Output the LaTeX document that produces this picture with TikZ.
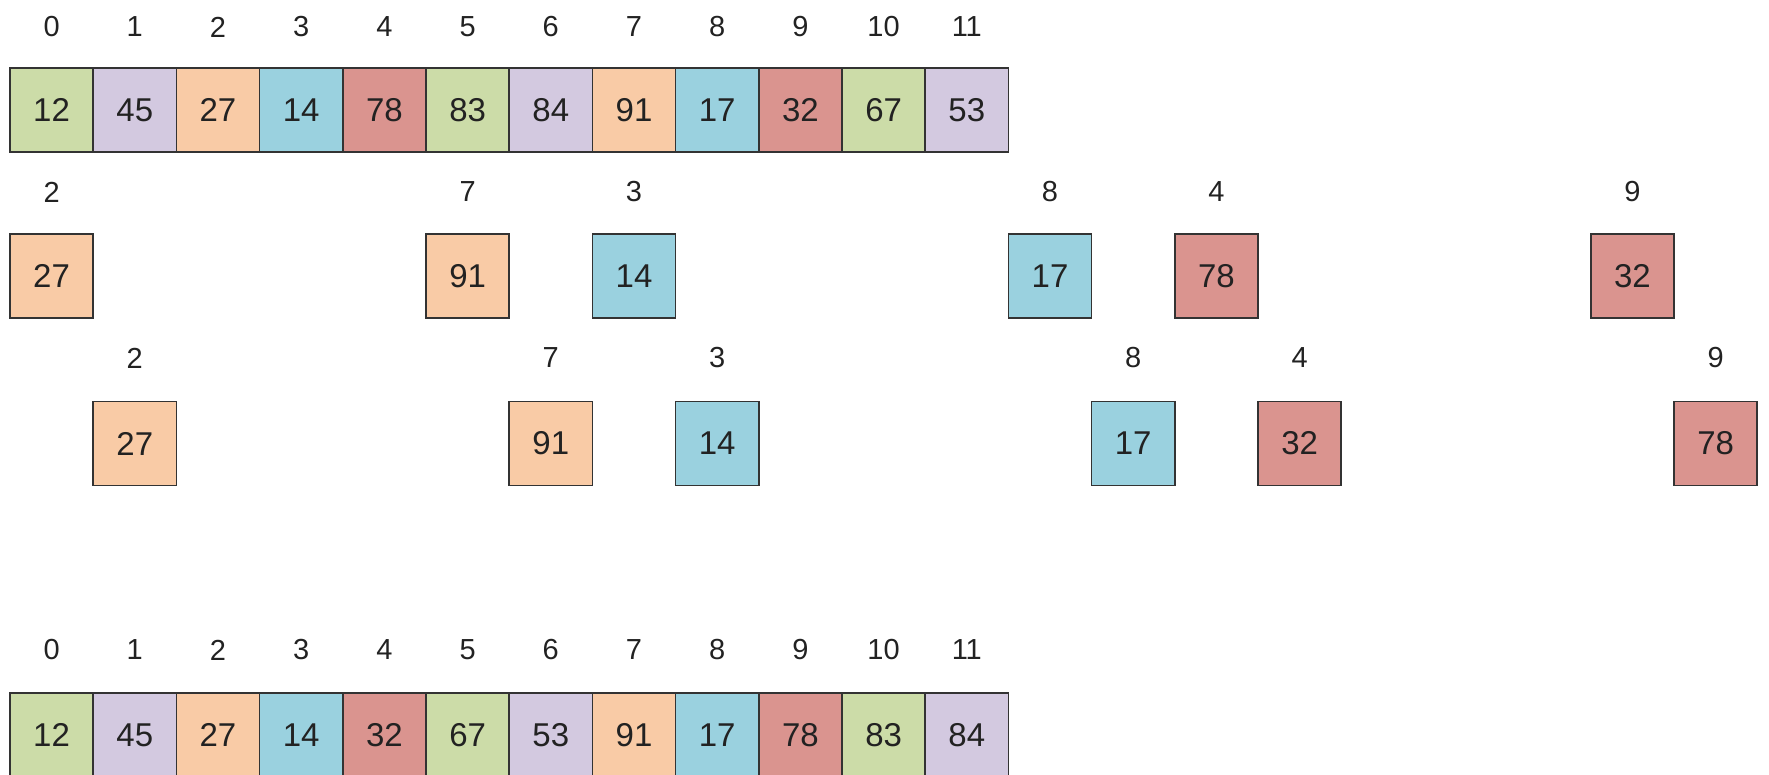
\documentclass[tikz,border=0pt]{standalone}
\usepackage{fontspec}
\setmainfont{Liberation Sans}
\definecolor{cA}{HTML}{CCDCA8}
\definecolor{cB}{HTML}{D3C9E0}
\definecolor{cC}{HTML}{F9CBA6}
\definecolor{cD}{HTML}{9AD1DF}
\definecolor{cE}{HTML}{DA948F}
\definecolor{edge}{HTML}{333333}
\definecolor{txt}{HTML}{222222}
\tikzset{
  cell/.style={draw=edge, line width=1.6pt, rectangle, minimum width=83.2pt, minimum height=84pt, inner sep=0pt, font=\fontsize{33}{36}\selectfont, text=txt},
  idx/.style={inner sep=0pt, font=\fontsize{29}{32}\selectfont, text=txt}
}
\begin{document}
\begin{tikzpicture}[x=1pt,y=-1pt]
\useasboundingbox (0,0) rectangle (1769,775);
\begin{scope}
\clip (0,0) rectangle (1769,775);
\def\colname#1{\ifcase#1 cA\or cB\or cC\or cD\or cE\fi}
% top array
\foreach \v [count=\i from 0] in {12,45,27,14,78,83,84,91,17,32,67,53}{
  \pgfmathtruncatemacro\m{mod(\i,5)}
  \node[cell, fill=\colname{\m}] (t\i) at ({10+83.2*\i+41.6},110) {\v};
  \node[idx] (ti\i) at ({10+83.2*\i+41.6},27) {\i};
}
% bottom array
\foreach \v [count=\i from 0] in {12,45,27,14,32,67,53,91,17,78,83,84}{
  \pgfmathtruncatemacro\m{mod(\i,5)}
  \node[cell, fill=\colname{\m}] (b\i) at ({10+83.2*\i+41.6},735) {\v};
  \node[idx] (bi\i) at ({10+83.2*\i+41.6},650) {\i};
}
% row 2
\foreach \c/\k/\v [count=\n] in {0/2/27,5/7/91,7/3/14,12/8/17,14/4/78,19/9/32}{
  \pgfmathtruncatemacro\m{mod(\k,5)}
  \node[cell, fill=\colname{\m}] (r\n) at ({10+83.2*\c+41.6},276) {\v};
  \node[idx] (ri\n) at ({10+83.2*\c+41.6},192) {\k};
}
% row 3
\foreach \c/\k/\v [count=\n] in {1/2/27,6/7/91,8/3/14,13/8/17,15/4/32,20/9/78}{
  \pgfmathtruncatemacro\m{mod(\k,5)}
  \node[cell, fill=\colname{\m}] (s\n) at ({10+83.2*\c+41.6},443.5) {\v};
  \node[idx] (si\n) at ({10+83.2*\c+41.6},358) {\k};
}
\end{scope}
\end{tikzpicture}
\end{document}
